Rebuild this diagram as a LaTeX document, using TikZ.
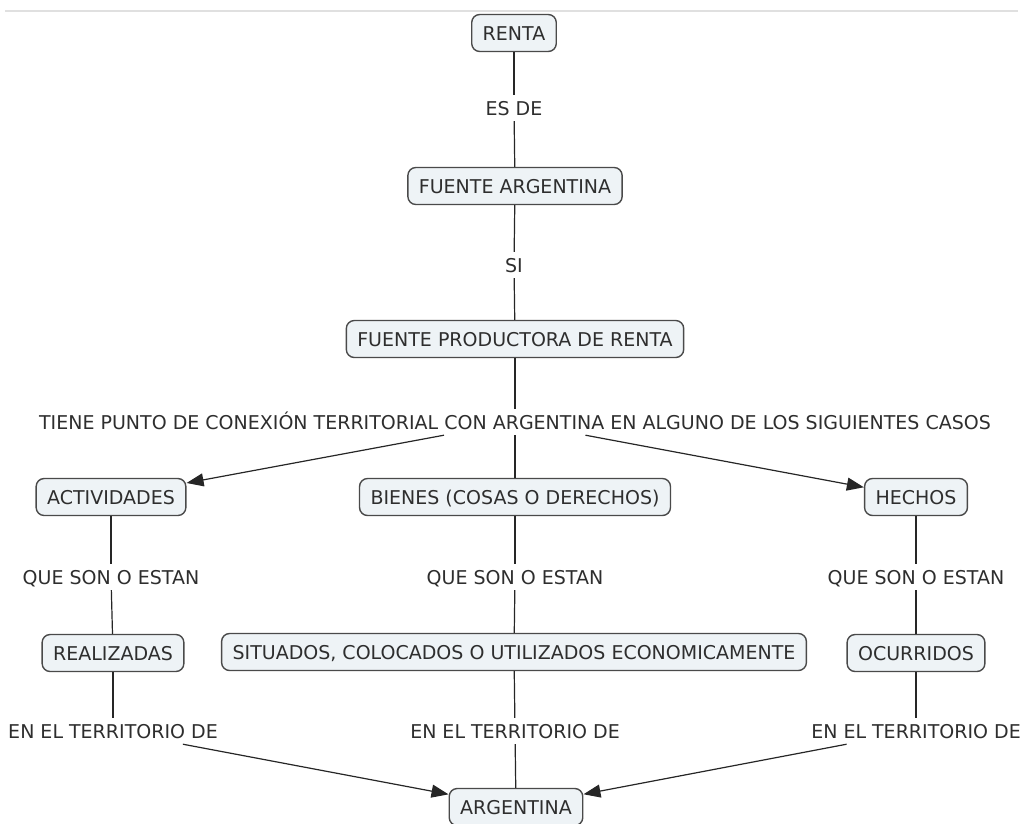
\documentclass[tikz,border=0pt]{standalone}
\usepackage{fontspec}
\setmainfont{DejaVu Sans}
\usetikzlibrary{arrows.meta}
\definecolor{boxfill}{HTML}{EEF3F6}
\definecolor{boxline}{HTML}{4A4A4A}
\definecolor{txt}{HTML}{2E2E2E}
\begin{document}
\begin{tikzpicture}[x=1pt,y=-1pt,
  font=\fontsize{19}{22}\selectfont, text=txt,
  concept/.style={draw=boxline, line width=1.4pt, fill=boxfill, rounded corners=8pt,
    inner xsep=11pt, minimum height=37pt, text depth=0pt, text height=14pt},
  linkph/.style={inner sep=6pt, text depth=0pt, text height=14pt, fill=white},
  conn/.style={draw=black!85, line width=1.2pt},
  arr/.style={conn, -{Triangle[length=17pt,width=13pt]}}]
\useasboundingbox (0,0) rectangle (1022,823);
\draw[black!12, line width=2pt] (5,11) -- (1018,11);

\node[concept] (renta) at (514,33) {RENTA};
\node[linkph] (esde) at (514,108) {ES DE};
\node[concept] (fuente) at (515,186) {FUENTE ARGENTINA};
\node[linkph] (si) at (514,265) {SI};
\node[concept] (fpr) at (515,339) {FUENTE PRODUCTORA DE RENTA};
\node[linkph] (tiene) at (515,422) {TIENE PUNTO DE CONEXIÓN TERRITORIAL CON ARGENTINA EN ALGUNO DE LOS SIGUIENTES CASOS};
\node[concept] (act) at (111,497) {ACTIVIDADES};
\node[concept] (bienes) at (515,497) {BIENES (COSAS O DERECHOS)};
\node[concept] (hechos) at (916,497) {HECHOS};
\node[linkph] (qa) at (111,577) {QUE SON O ESTAN};
\node[linkph] (qb) at (515,577) {QUE SON O ESTAN};
\node[linkph] (qc) at (916,577) {QUE SON O ESTAN};
\node[concept] (real) at (113,653) {REALIZADAS};
\node[concept] (sit) at (514,652) {SITUADOS, COLOCADOS O UTILIZADOS ECONOMICAMENTE};
\node[concept] (ocu) at (916,653) {OCURRIDOS};
\node[linkph] (ea) at (113,731) {EN EL TERRITORIO DE};
\node[linkph] (eb) at (515,731) {EN EL TERRITORIO DE};
\node[linkph] (ec) at (916,731) {EN EL TERRITORIO DE};
\node[concept] (arg) at (516,807) {ARGENTINA};

\draw[conn] (renta) -- (esde);
\draw[conn] (esde) -- (fuente);
\draw[conn] (fuente) -- (si);
\draw[conn] (si) -- (fpr);
\draw[conn] (fpr) -- (tiene);
\draw[arr] (tiene) -- (act);
\draw[conn] (tiene) -- (bienes);
\draw[arr] (tiene) -- (hechos);
\draw[conn] (act) -- (qa);
\draw[conn] (bienes) -- (qb);
\draw[conn] (hechos) -- (qc);
\draw[conn] (qa) -- (real);
\draw[conn] (qb) -- (sit);
\draw[conn] (qc) -- (ocu);
\draw[conn] (real) -- (ea);
\draw[conn] (sit) -- (eb);
\draw[conn] (ocu) -- (ec);
\draw[arr] (ea) -- (arg);
\draw[conn] (eb) -- (arg);
\draw[arr] (ec) -- (arg);
\end{tikzpicture}
\end{document}
